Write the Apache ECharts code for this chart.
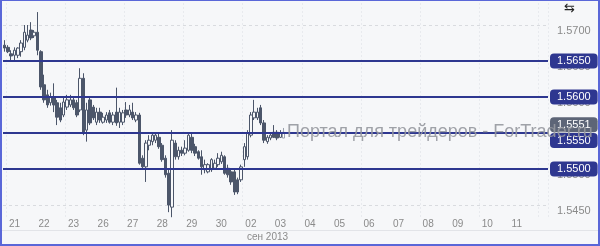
<!DOCTYPE html>
<html><head><meta charset="utf-8">
<script src="https://cdn.jsdelivr.net/npm/echarts@6/dist/echarts.min.js"></script>
<style>
html,body{margin:0;padding:0;background:#f6f7f9;}
#c{position:absolute;left:0;top:0;width:600px;height:246px;}
#frame{position:absolute;left:0;top:0;width:600px;height:246px;box-sizing:border-box;border-style:solid;border-color:#5a67d8;border-width:1px 2px 2px 2px;pointer-events:none;}
</style></head><body>
<div id="c"></div><div id="frame"></div>
<script>
// ---- data ----
const dayLabels = ['21','22','23','26','27','28','29','30','02','03','04','05','06','07','08','09','10','11'];
const opens = [1.5672,1.5669,1.5660,1.5658,1.5658,1.5663,1.5669,1.5679,1.5693,1.5685,
1.5690,1.5663,1.5617,1.5603,1.5592,1.5599,1.5592,1.5585,1.5575,1.5586,
1.5589,1.5596,1.5592,1.5582,1.5626,1.5554,1.5596,1.5586,1.5565,1.5579,
1.5565,1.5568,1.5578,1.5565,1.5579,1.5565,1.5565,1.5582,1.5575,1.5579,
1.5568,1.5575,1.5515,1.5503,1.5533,1.5538,1.5540,1.5544,1.5533,1.5515,
1.5494,1.5447,1.5536,1.5517,1.5526,1.5522,1.5526,1.5544,1.5531,1.5524,
1.5517,1.5499,1.5496,1.5499,1.5501,1.5506,1.5510,1.5517,1.5501,1.5496,
1.5496,1.5485,1.5485,1.5513,1.5517,1.5547,1.5571,1.5571,1.5585,1.5564,
1.5538,1.5543,1.5551,1.5551,1.5544,1.5543];
const closes = [1.5668,1.5663,1.5657,1.5665,1.5668,1.5675,1.5690,1.5686,1.5682,1.5690,
1.5665,1.5614,1.5596,1.5589,1.5600,1.5589,1.5572,1.5568,1.5593,1.5596,
1.5596,1.5585,1.5575,1.5626,1.5551,1.5582,1.5564,1.5571,1.5579,1.5568,
1.5572,1.5575,1.5565,1.5575,1.5564,1.5579,1.5578,1.5575,1.5582,1.5571,
1.5575,1.5508,1.5503,1.5536,1.5540,1.5547,1.5547,1.5531,1.5513,1.5492,
1.5450,1.5540,1.5517,1.5526,1.5522,1.5529,1.5547,1.5526,1.5522,1.5515,
1.5503,1.5506,1.5506,1.5513,1.5508,1.5515,1.5519,1.5494,1.5492,1.5482,
1.5468,1.5468,1.5503,1.5531,1.5550,1.5575,1.5579,1.5579,1.5564,1.5540,
1.5544,1.5547,1.5544,1.5543,1.5550,1.5551];
const lows = [1.5663,1.5661,1.5651,1.5649,1.5654,1.5656,1.5665,1.5676,1.5679,1.5682,
1.5658,1.5610,1.5592,1.5585,1.5588,1.5579,1.5561,1.5565,1.5572,1.5582,
1.5586,1.5582,1.5572,1.5579,1.5547,1.5538,1.5561,1.5568,1.5561,1.5564,
1.5563,1.5564,1.5563,1.5561,1.5560,1.5557,1.5561,1.5571,1.5572,1.5568,
1.5565,1.5506,1.5499,1.5482,1.5526,1.5533,1.5536,1.5528,1.5510,1.5488,
1.5440,1.5433,1.5513,1.5513,1.5518,1.5519,1.5524,1.5522,1.5518,1.5513,
1.5492,1.5494,1.5494,1.5496,1.5499,1.5503,1.5507,1.5492,1.5488,1.5478,
1.5464,1.5465,1.5482,1.5503,1.5513,1.5544,1.5568,1.5568,1.5561,1.5536,
1.5535,1.5540,1.5543,1.5540,1.5543,1.5543];
const highs = [1.5679,1.5672,1.5665,1.5669,1.5669,1.5679,1.5700,1.5700,1.5704,1.5693,
1.5718,1.5665,1.5631,1.5610,1.5606,1.5619,1.5596,1.5592,1.5599,1.5603,
1.5603,1.5599,1.5596,1.5640,1.5633,1.5592,1.5599,1.5589,1.5585,1.5585,
1.5578,1.5579,1.5582,1.5579,1.5613,1.5585,1.5582,1.5593,1.5589,1.5592,
1.5579,1.5578,1.5519,1.5540,1.5547,1.5551,1.5551,1.5549,1.5536,1.5519,
1.5499,1.5554,1.5540,1.5531,1.5531,1.5540,1.5550,1.5550,1.5535,1.5526,
1.5526,1.5513,1.5508,1.5515,1.5513,1.5522,1.5524,1.5519,1.5506,1.5499,
1.5499,1.5488,1.5506,1.5536,1.5554,1.5579,1.5596,1.5585,1.5589,1.5568,
1.5547,1.5550,1.5561,1.5554,1.5554,1.5557];
const levels = [1.5650, 1.5600, 1.5550, 1.5500];
const lastPrice = 1.5551;
const monthLabel = 'сен 2013';
const watermark = 'Портал для трейдеров - ForTrader.ru';

// ---- layout config ----
const slotsPerDay = 9, firstLabelSlot = 3, totalSlots = 166;
const yMin = 1.54333, yMax = 1.57306;
const navy = '#2e3790', candleDark = '#4c566a';

const categories = [];
for (let i = 0; i < totalSlots; i++) {
  categories.push((dayLabels[Math.floor(i / slotsPerDay)] || '') + '|' + i);
}
const candles = opens.map((o, i) => {
  const item = { value: [o, closes[i], lows[i], highs[i]] };
  if (i === opens.length - 1) item.itemStyle = { color: '#ffffff', borderColor: '#9aa1ad', borderColor0: '#9aa1ad' };
  return item;
});

const boxLabel = (bg, va) => ({
  show: true, position: 'end', distance: 2, color: '#ffffff', fontSize: 11,
  fontFamily: 'Liberation Sans', backgroundColor: bg, borderRadius: 4,
  padding: [2, 7, 1, 7], lineHeight: 12, verticalAlign: va,
  formatter: p => Number(p.value).toFixed(4)
});
const mlData = levels.map(v => ({
  yAxis: v,
  label: boxLabel(navy, Math.abs(v - lastPrice) < 0.0003 ? 'top' : 'middle')
}));
mlData.push({ yAxis: lastPrice, lineStyle: { color: 'rgba(0,0,0,0)' }, label: boxLabel('#5d6577', 'bottom') });

const chart = echarts.init(document.getElementById('c'), null, { renderer: 'canvas' });
chart.setOption({
  animation: false,
  backgroundColor: '#f6f7f9',
  textStyle: { fontFamily: 'Liberation Sans' },
  grid: { left: 3, right: 52, top: 3, bottom: 29 },
  xAxis: {
    type: 'category', data: categories, boundaryGap: true,
    axisLine: { show: false }, axisTick: { show: false },
    axisLabel: {
      interval: i => i >= firstLabelSlot && (i - firstLabelSlot) % slotsPerDay === 0,
      formatter: v => v.split('|')[0], color: '#8a8a8a', fontSize: 10, margin: 2
    },
    splitLine: { show: true, interval: i => i % (slotsPerDay * 2) === 1, lineStyle: { color: '#e8eaee', type: [2, 2] } }
  },
  yAxis: {
    type: 'value', position: 'right', min: yMin, max: yMax, scale: true,
    axisLine: { show: false }, axisTick: { show: false },
    axisLabel: { showMinLabel: false, showMaxLabel: false, verticalAlign: 'top', margin: 9, color: '#8a8a8a', fontSize: 11, formatter: v => v.toFixed(4) },
    splitLine: { show: true, showMinLine: false, showMaxLine: false, lineStyle: { color: '#d9dbdf', type: [3, 3] } }
  },
  series: [{
    type: 'candlestick', data: candles, barWidth: 3,
    itemStyle: { color: '#f7f8fa', color0: candleDark, borderColor: candleDark, borderColor0: candleDark, borderWidth: 1 },
    markLine: {
      silent: true, symbol: 'none', animation: false, precision: 4,
      lineStyle: { color: navy, width: 2, type: 'solid' },
      data: mlData
    }
  }],
  graphic: [
    { type: 'line', shape: { x1: 2, y1: 230.5, x2: 598, y2: 230.5 }, style: { stroke: '#e2e4e8', lineWidth: 1 } },
    { type: 'text', left: 247, top: 232, style: { text: monthLabel, fill: '#8a8a8a', font: '10px "Liberation Sans"' } },
    { type: 'text', left: 287, top: 123, zlevel: 2, z: 100, style: { text: watermark, fill: 'rgba(150,152,158,0.9)', font: '18px "Liberation Sans"' } },
    { type: 'text', left: 564, top: 2, style: { text: '⇆', fill: '#222', font: '13px "DejaVu Sans"' } }
  ]
});
</script>
</body></html>
